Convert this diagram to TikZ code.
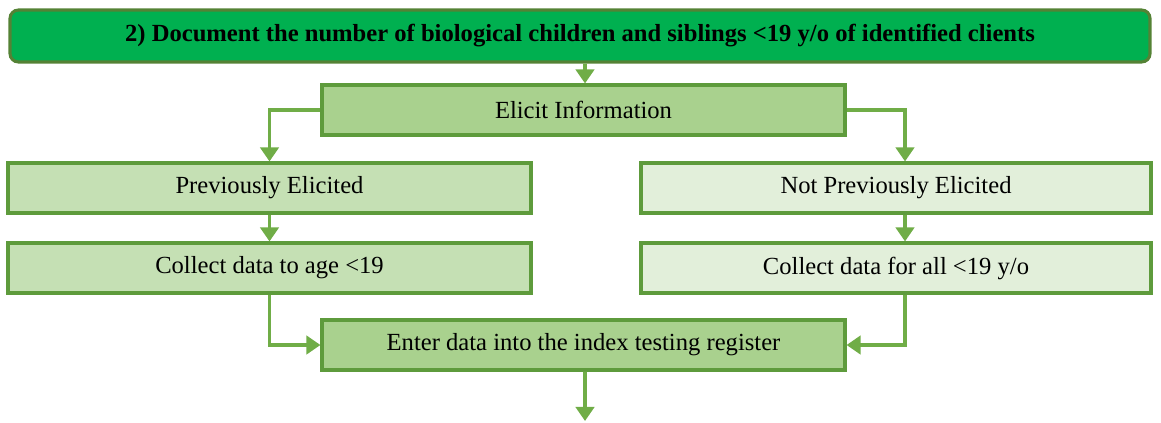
\documentclass[tikz,border=0pt]{standalone}
\usepackage{fontspec}
\setmainfont{Liberation Serif}
\usetikzlibrary{arrows.meta,calc}

\definecolor{headgreen}{HTML}{00B050}
\definecolor{headedge}{HTML}{548235}
\definecolor{edgegreen}{HTML}{5E9B3C}
\definecolor{linegreen}{HTML}{70AD47}
\definecolor{midfill}{HTML}{A9D18E}
\definecolor{leftfill}{HTML}{C5E0B4}
\definecolor{rightfill}{HTML}{E2EFDA}

\tikzset{
  box/.style={draw=edgegreen, line width=2.2pt, inner sep=0pt,
    minimum width=523*0.025cm, minimum height=50*0.025cm,
    font=\fontsize{17.5}{20}\selectfont},
  link/.style={draw=linegreen, line width=2.8pt,
    -{Triangle[length=10pt,width=13pt]}}
}

\begin{document}
\begin{tikzpicture}[x=0.025cm,y=-0.025cm]
\useasboundingbox (0,0) rectangle (1161,422);

%% boxes
\node[box, draw=headedge, fill=headgreen, rounded corners=6pt, minimum width=1140*0.025cm,
  minimum height=52*0.025cm, font=\fontsize{17.5}{20}\selectfont\bfseries]
  (title) at (580,36) {2) Document the number of biological children and siblings <19 y/o of identified clients};
\node[box, fill=midfill] (elicit) at (583.5,110) {Elicit Information};
\node[box, fill=leftfill] (prev) at (269.5,188) {Previously Elicited};
\node[box, fill=leftfill] (toage) at (269.5,268) {Collect data to age <19};
\node[box, fill=rightfill, minimum width=510*0.025cm] (notprev) at (896,188) {Not Previously Elicited};
\node[box, fill=rightfill, minimum width=510*0.025cm] (forall) at (896,268) {Collect data for all <19 y/o};
\node[box, fill=midfill] (enter) at (583.5,345) {Enter data into the index testing register};
\coordinate (out) at (585,421);

%% connectors
\draw[link] ($(title.south)+(5,0)$) -- ($(elicit.north)+(1.5,0)$);
\draw[link] (elicit.west) -| (prev.north);
\draw[link] (elicit.east) -| ($(notprev.north)+(9,0)$);
\draw[link] (prev.south) -- (toage.north);
\draw[link] ($(notprev.south)+(9,0)$) -- ($(forall.north)+(9,0)$);
\draw[link] (toage.south) |- (enter.west);
\draw[link] ($(forall.south)+(9,0)$) |- (enter.east);
\draw[link] ($(enter.south)+(1.5,0)$) -- (out);

\end{tikzpicture}
\end{document}
